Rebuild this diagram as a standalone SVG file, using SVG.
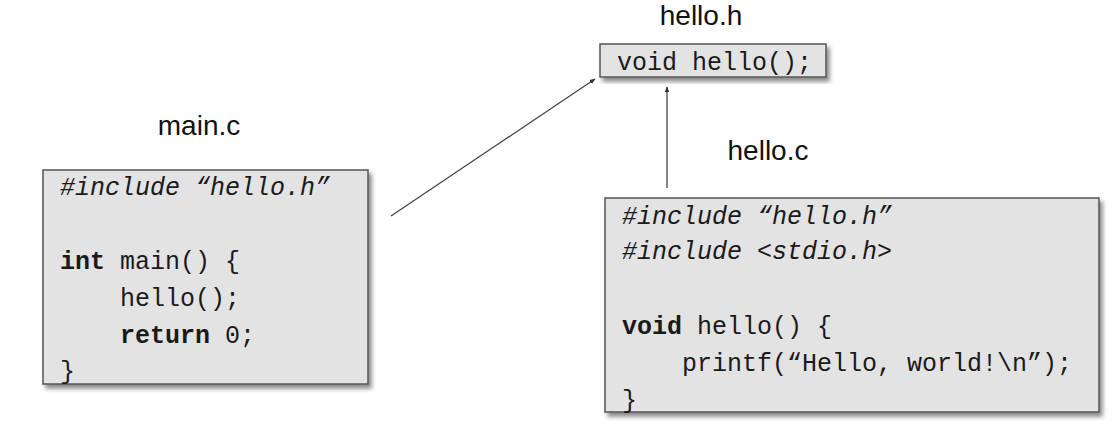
<svg xmlns="http://www.w3.org/2000/svg" width="1114" height="428" viewBox="0 0 1114 428">
<style>
.lbl{font-family:"Liberation Sans",Arial,sans-serif;font-size:28px;fill:#111}
.code{font-family:"Liberation Mono","Courier New",monospace;font-size:25px;fill:#1a1a1a}
.inc{font-style:italic}
.kw{font-weight:bold}
.box{fill:#e3e3e3;stroke:#555;stroke-width:1.5}
.conn{stroke:#444;stroke-width:1.3;fill:none}
</style>
<defs>
<filter id="sh" x="-10%" y="-10%" width="125%" height="130%">
<feDropShadow dx="3" dy="4" stdDeviation="2" flood-color="#000" flood-opacity="0.45"/>
</filter>
<marker id="ah" viewBox="0 0 10 10" refX="9" refY="5" markerWidth="6" markerHeight="6" orient="auto" markerUnits="userSpaceOnUse">
<path d="M0,1 L10,5 L0,9 z" fill="#333"/>
</marker>
</defs>
<rect width="1114" height="428" fill="#fff"/>
<g id="connectors">
<line class="conn" x1="391" y1="216" x2="595" y2="79" marker-end="url(#ah)"/>
<line class="conn" x1="667" y1="188" x2="667" y2="87" marker-end="url(#ah)"/>
</g>
<g id="hello_h">
<text class="lbl" x="701" y="25" text-anchor="middle">hello.h</text>
<rect class="box" x="600" y="44" width="226" height="33" filter="url(#sh)"/>
<text class="code" x="617" y="70">void hello();</text>
</g>
<g id="main_c">
<text class="lbl" x="199" y="135" text-anchor="middle">main.c</text>
<rect class="box" x="43" y="170" width="325" height="214" filter="url(#sh)"/>
<text class="code inc" x="60" y="195">#include “hello.h”</text>
<text class="code" x="60" y="269"><tspan class="kw">int</tspan> main() {</text>
<text class="code" x="120" y="306">hello();</text>
<text class="code" x="120" y="343"><tspan class="kw">return</tspan> 0;</text>
<text class="code" x="60" y="379">}</text>
</g>
<g id="hello_c">
<text class="lbl" x="768" y="160" text-anchor="middle">hello.c</text>
<rect class="box" x="605" y="198" width="494" height="214" filter="url(#sh)"/>
<text class="code inc" x="622" y="224">#include “hello.h”</text>
<text class="code inc" x="622" y="259">#include &lt;stdio.h&gt;</text>
<text class="code" x="622" y="334"><tspan class="kw">void</tspan> hello() {</text>
<text class="code" x="682" y="371">printf(“Hello, world!\n”);</text>
<text class="code" x="622" y="408">}</text>
</g>
</svg>
